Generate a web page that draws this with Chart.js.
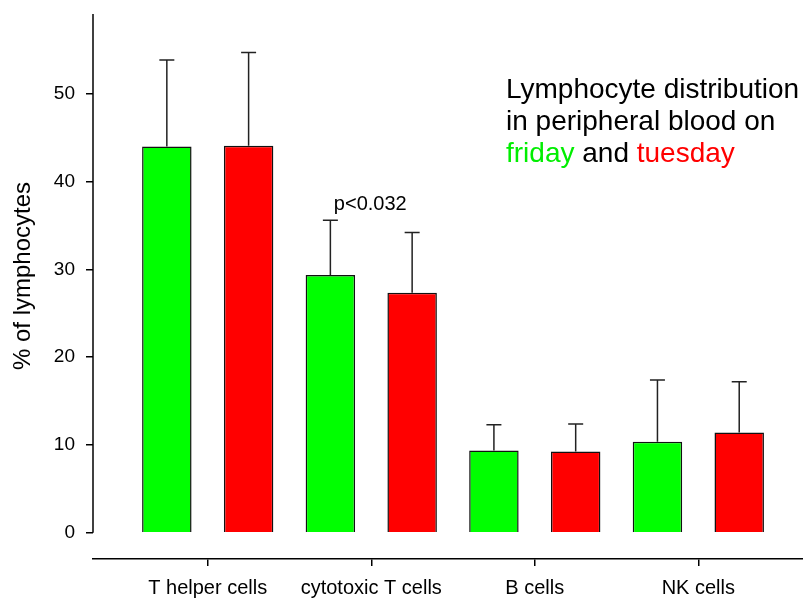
<!DOCTYPE html>
<html>
<head>
<meta charset="utf-8">
<script src="https://cdn.jsdelivr.net/npm/chart.js@4/dist/chart.umd.min.js"></script>
<style>
  html, body { margin: 0; padding: 0; background: #fff; }
  #wrap { width: 803px; height: 599px; position: relative; }
</style>
</head>
<body>
<div id="wrap"><canvas id="c" width="803" height="599"></canvas></div>
<script>
const categories = ['T helper cells', 'cytotoxic T cells', 'B cells', 'NK cells'];
const fridayValues = [44.0, 29.35, 9.35, 10.35];
const tuesdayValues = [44.1, 27.35, 9.25, 11.4];
const fridayErrors = [9.85, 6.25, 2.95, 7.05];
const tuesdayErrors = [10.6, 6.85, 3.13, 5.8];
const yTickValues = [0, 10, 20, 30, 40, 50];
const seriesNames = ['friday', 'tuesday'];
const yTitle = '% of lymphocytes';

const FONT = "'Liberation Sans', Arial, sans-serif";
const toPoints = vals => vals.map((v, i) => ({ x: i + 1, y: v }));

const errorBars = {
  id: 'errorBars',
  afterDatasetsDraw(chart) {
    const ctx = chart.ctx;
    const ys = chart.scales.y;
    const errs = [fridayErrors, tuesdayErrors];
    const vals = [fridayValues, tuesdayValues];
    ctx.save();
    ctx.strokeStyle = '#222';
    ctx.lineWidth = 1.5;
    chart.data.datasets.forEach((ds, di) => {
      const meta = chart.getDatasetMeta(di);
      meta.data.forEach((el, i) => {
        const top = ys.getPixelForValue(vals[di][i] + errs[di][i]);
        const base = el.y;
        ctx.beginPath();
        ctx.moveTo(el.x, base);
        ctx.lineTo(el.x, top);
        ctx.moveTo(el.x - 7.5, top);
        ctx.lineTo(el.x + 7.5, top);
        ctx.stroke();
      });
    });
    ctx.restore();
  }
};

const axisAndText = {
  id: 'axisAndText',
  afterDraw(chart) {
    const ctx = chart.ctx;
    const ys = chart.scales.y;
    const xs = chart.scales.x;
    const ca = chart.chartArea;
    ctx.save();
    ctx.strokeStyle = '#000';
    ctx.lineWidth = 1.5;
    ctx.beginPath();
    ctx.moveTo(ca.left, ys.getPixelForValue(0));
    ctx.lineTo(ca.left, ca.top);
    ctx.stroke();
    // y axis title
    ctx.save();
    ctx.translate(23, 276);
    ctx.rotate(-Math.PI / 2);
    ctx.fillStyle = '#000';
    ctx.font = '24px ' + FONT;
    ctx.textAlign = 'center';
    ctx.textBaseline = 'middle';
    ctx.fillText(yTitle, 0, 0);
    ctx.restore();
    ctx.fillStyle = '#000';
    ctx.textBaseline = 'alphabetic';
    ctx.font = '20px ' + FONT;
    ctx.textAlign = 'center';
    ctx.fillText('p<0.032', xs.getPixelForValue(2) - 1, 210);
    ctx.textAlign = 'left';
    ctx.font = '28px ' + FONT;
    const x0 = 506;
    ctx.fillText('Lymphocyte distribution', x0, 98);
    ctx.fillText('in peripheral blood on', x0, 130);
    let x = x0;
    ctx.fillStyle = '#00ee00';
    ctx.fillText(seriesNames[0], x, 162);
    x += ctx.measureText(seriesNames[0]).width;
    ctx.fillStyle = '#000';
    ctx.fillText(' and ', x, 162);
    x += ctx.measureText(' and ').width;
    ctx.fillStyle = '#ff0000';
    ctx.fillText(seriesNames[1], x, 162);
    ctx.restore();
  }
};

new Chart(document.getElementById('c'), {
  type: 'bar',
  data: {
    datasets: [
      { label: seriesNames[0], data: toPoints(fridayValues), backgroundColor: '#00ff00', borderColor: '#111', borderWidth: 1.5 },
      { label: seriesNames[1], data: toPoints(tuesdayValues), backgroundColor: '#ff0000', borderColor: '#111', borderWidth: 1.5 }
    ]
  },
  options: {
    responsive: false,
    animation: false,
    devicePixelRatio: 1,
    layout: { padding: { top: 14, right: 0, bottom: 0, left: 0 } },
    plugins: { legend: { display: false }, tooltip: { enabled: false } },
    datasets: { bar: { barPercentage: 0.605, categoryPercentage: 1.0 } },
    scales: {
      x: {
        type: 'linear',
        offset: false,
        min: 0.2985,
        max: 4.64,
        afterBuildTicks: s => { s.ticks = categories.map((c, i) => ({ value: i + 1 })); },
        afterFit: s => { s.height = 40; s.paddingLeft = 0; s.paddingRight = 0; },
        grid: { offset: false, drawOnChartArea: false, drawTicks: true, tickLength: 7, color: '#000', lineWidth: 1.5 },
        border: { display: true, color: '#000', width: 1.5 },
        ticks: {
          color: '#000', font: { family: FONT, size: 20 }, padding: 10, maxRotation: 0, autoSkip: false,
          callback: v => categories[Math.round(v) - 1]
        }
      },
      y: {
        min: -3.0,
        max: 59.1,
        afterBuildTicks: s => { s.ticks = yTickValues.map(v => ({ value: v })); },
        afterFit: s => { s.width = 93; s.paddingTop = 0; s.paddingBottom = 0; },
        grid: { drawOnChartArea: false, drawTicks: true, tickLength: 7, color: '#000', lineWidth: 1.5 },
        border: { display: false },
        ticks: { color: '#000', font: { family: FONT, size: 19 }, padding: 11 },
        title: { display: false }
      }
    }
  },
  plugins: [errorBars, axisAndText]
});
</script>
</body>
</html>
